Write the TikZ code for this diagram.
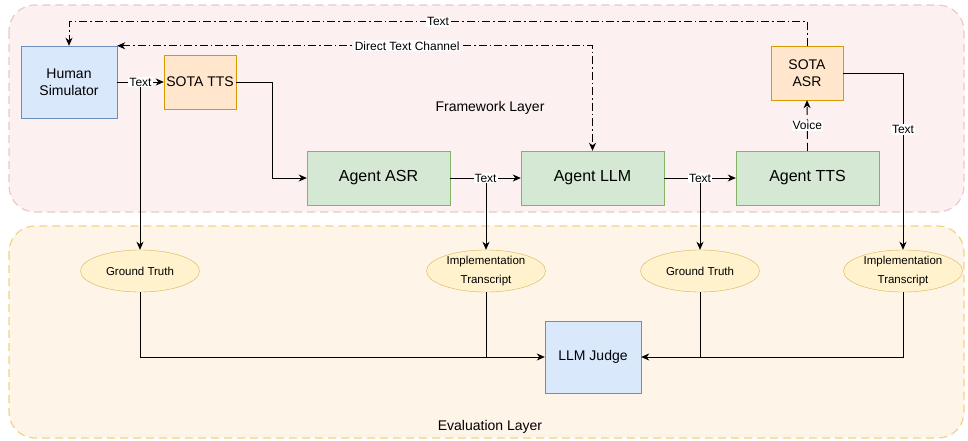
\documentclass[tikz,border=0pt]{standalone}
\usepackage{fontspec}
\setmainfont{Liberation Sans}
\usetikzlibrary{arrows.meta,shapes.geometric}

\definecolor{blueFill}{HTML}{DAE8FC}
\definecolor{blueLine}{HTML}{6C8EBF}
\definecolor{orangeFill}{HTML}{FFE6CC}
\definecolor{orangeLine}{HTML}{D79B00}
\definecolor{greenFill}{HTML}{D5E8D4}
\definecolor{greenLine}{HTML}{82B366}
\definecolor{yellowFill}{HTML}{FFF2CC}
\definecolor{yellowLine}{HTML}{D6B656}
\definecolor{frameFill}{HTML}{FDF0F0}
\definecolor{frameLine}{HTML}{EEC8C8}
\definecolor{evalFill}{HTML}{FEF4E8}
\definecolor{evalLine}{HTML}{F2D28A}

\begin{document}
\begin{tikzpicture}[x=1pt,y=-1pt]
\tikzstyle{human}=[rectangle, draw=blueLine, fill=blueFill, inner sep=0pt, align=center, font=\fontsize{14}{17}\selectfont]
\tikzstyle{sota}=[rectangle, draw=orangeLine, fill=orangeFill, inner sep=0pt, align=center, minimum width=72pt, minimum height=54pt, font=\fontsize{14}{17}\selectfont]
\tikzstyle{agent}=[rectangle, draw=greenLine, fill=greenFill, minimum width=143pt, minimum height=54pt, font=\fontsize{16}{19}\selectfont]
\tikzstyle{oval}=[ellipse, draw=yellowLine, fill=yellowFill, inner sep=0pt, minimum width=119pt, minimum height=42pt, align=center, font=\fontsize{11.5}{19}\selectfont]
\tikzstyle{connect}=[-{Stealth[length=8pt,width=7pt,inset=2.5pt]}, line width=0.9pt]
\tikzstyle{plain}=[line width=0.9pt]
\tikzstyle{dashdot}=[dash pattern=on 8pt off 3pt on 1.5pt off 3pt]
\tikzstyle{lbl}=[fill=white, inner sep=1pt, font=\fontsize{12}{14}\selectfont]
\useasboundingbox (0,0) rectangle (968,441);
  % layers
  \draw[frameLine, fill=frameFill, line width=1.2pt, dash pattern=on 8pt off 5pt, rounded corners=26pt] (9,5) rectangle (964,212);
  \draw[evalLine, fill=evalFill, line width=1.2pt, dash pattern=on 8pt off 5pt, rounded corners=26pt] (9,226) rectangle (964,438);
  \node[font=\fontsize{14}{17}\selectfont] (fwl) at (490,108) {Framework Layer};
  \node[font=\fontsize{14}{17}\selectfont] (evl) at (490,427) {Evaluation Layer};
  % framework nodes
  \node[human, minimum width=96pt, minimum height=72pt] (hs) at (69,82) {Human\\Simulator};
  \node[sota] (tts) at (200,82) {SOTA TTS};
  \node[agent] (aasr) at (378.5,178) {Agent ASR};
  \node[agent] (allm) at (592.5,178) {Agent LLM};
  \node[agent] (atts) at (807.5,178) {Agent TTS};
  \node[sota] (asr) at (807,73) {SOTA\\ASR};
  % evaluation nodes
  \node[oval] (gt1) at (140,271) {Ground Truth};
  \node[oval] (it1) at (486,271) {Implementation\\Transcript};
  \node[oval] (gt2) at (700,271) {Ground Truth};
  \node[oval] (it2) at (903,271) {Implementation\\Transcript};
  \node[human, minimum width=96pt, minimum height=72pt] (judge) at (593,357) {LLM Judge};
  % taps into the evaluation layer
  \draw[connect] (140,82) -- (gt1);
  \draw[connect] (486,178) -- (it1);
  \draw[connect] (700,178) -- (gt2);
  \path
        (hs) edge [connect] node[lbl] (t1) {Text} (tts)
        (aasr) edge [connect] node[lbl] (t2) {Text} (allm)
        (allm) edge [connect] node[lbl] (t3) {Text} (atts);
  \draw[connect] (tts.east) -- ++(36,0) |- (aasr.west);
  \draw[connect, dash pattern=on 8pt off 4pt] (atts.north) -- node[lbl] {Voice} (asr.south);
  \draw[connect] (asr.east) -| node[lbl, pos=0.66] {Text} (it2.north);
  \draw[connect, dashdot] (asr.north) -- ++(0,-24) -| node[lbl, pos=0.25] {Text} (hs.north);
  \draw[{Stealth[length=8pt,width=7pt,inset=2.5pt]}-{Stealth[length=8pt,width=7pt,inset=2.5pt]}, line width=0.9pt, dashdot] (hs.north east) -| node[lbl, pos=0.305] {Direct Text Channel} (allm.north);
  % to the judge
  \draw[connect] (gt1.south) |- (judge.west);
  \draw[plain] (it1.south) -- (it1.south |- judge.west);
  \draw[connect] (it2.south) |- (judge.east);
  \draw[plain] (gt2.south) -- (gt2.south |- judge.east);
\end{tikzpicture}
\end{document}
